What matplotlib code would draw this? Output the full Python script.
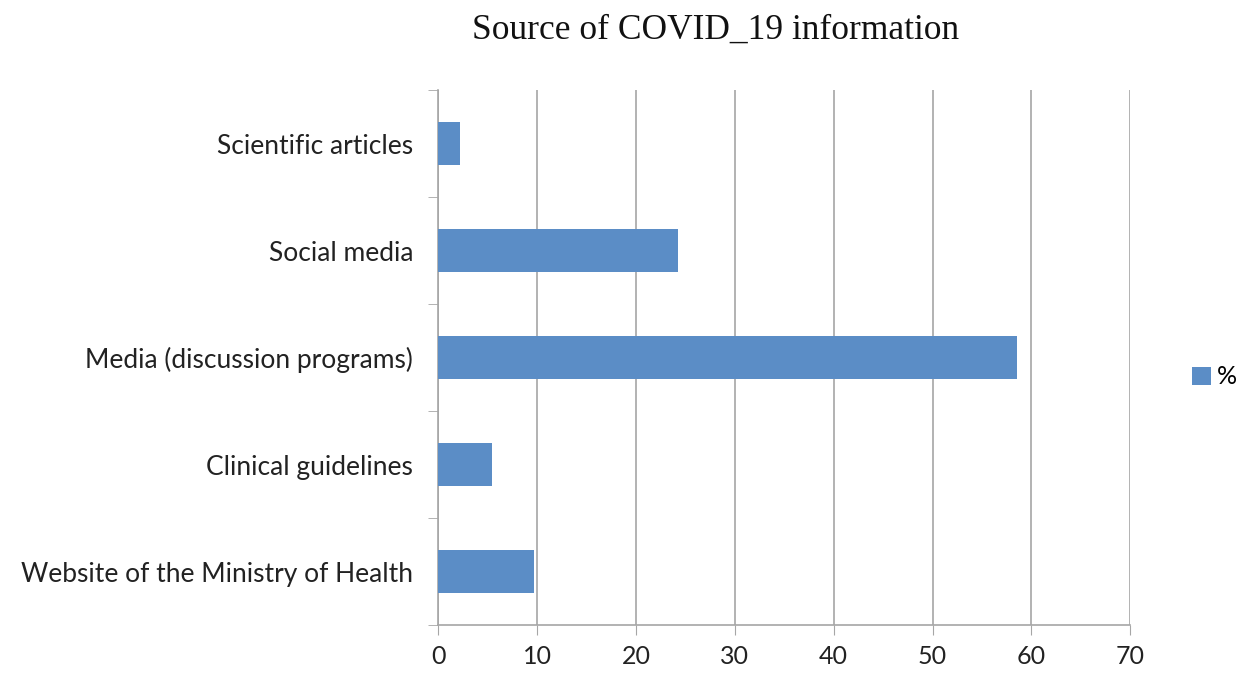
import matplotlib.pyplot as plt
import numpy as np

categories = ['Website of the Ministry of Health', 'Clinical guidelines',
              'Media (discussion programs)', 'Social media', 'Scientific articles']
values = [9.7, 5.4, 58.5, 24.3, 2.2]
xticks = [0, 10, 20, 30, 40, 50, 60, 70]

grey = '#a6a6a6'
bar_color = '#5b8dc6'

fig = plt.figure(figsize=(12.38, 6.73), dpi=100)
ax = fig.add_axes([0.354, 0.071, 0.559, 0.795])

y = np.arange(len(categories))
bars = ax.barh(y, values, height=0.4, color=bar_color, label='%', zorder=3)

ax.set_xlim(0, 70)
ax.set_ylim(-0.5, len(categories) - 0.5)
ax.set_xticks(xticks)
ax.set_xticklabels([str(t) for t in xticks], fontsize=18, family='Lato', color='#222222')
ax.set_yticks(y)
ax.set_yticklabels(categories, fontsize=19, family='Lato', color='#222222')
ax.tick_params(axis='y', length=0, pad=18)
ax.set_yticks(np.arange(-0.5, len(categories), 1.0), minor=True)
ax.tick_params(axis='y', which='minor', length=7, color=grey)
ax.tick_params(axis='x', length=7, color=grey, pad=7)

ax.grid(axis='x', color=grey, linewidth=1.2, zorder=0)
for side in ['top', 'right']:
    ax.spines[side].set_visible(False)
for side in ['left', 'bottom']:
    ax.spines[side].set_color(grey)
    ax.spines[side].set_linewidth(1.2)

fig.text(0.578, 0.955, 'Source of COVID_19 information', ha='center', va='center',
         fontsize=25.5, family='Liberation Serif', color='#111111')

fig.legend(handles=[bars], labels=['%'], loc='center left', bbox_to_anchor=(0.963, 0.44),
           frameon=False, handlelength=0.75, handleheight=0.75, borderpad=0,
           borderaxespad=0, handletextpad=0.25, prop={'family': 'Lato', 'size': 18})

fig.savefig('out.png', dpi=100)
